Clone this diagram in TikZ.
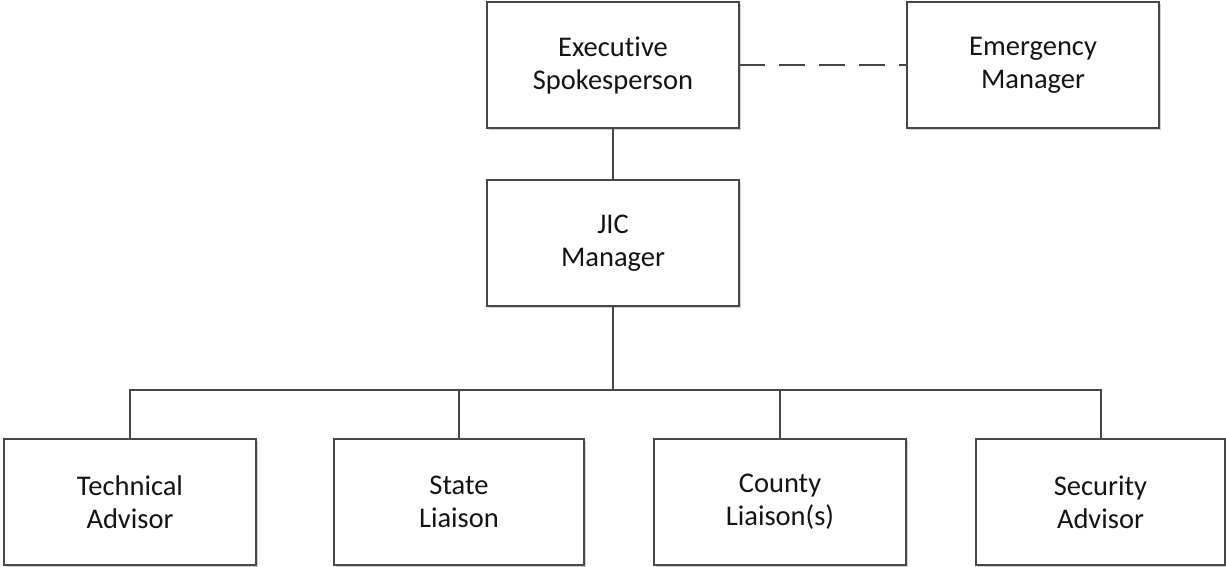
\documentclass[tikz,border=0pt]{standalone}
\usepackage{fontspec}
\setmainfont{Carlito}[Ligatures=NoCommon]
\usetikzlibrary{shadows}
\definecolor{edge}{HTML}{474747}
\definecolor{ink}{HTML}{141414}
\tikzset{
  unitbox/.style={draw=edge, line width=2pt, fill=white, text=ink,
    minimum height=126pt, align=center,
    font=\fontsize{28.5}{33}\selectfont,
    drop shadow={shadow xshift=2pt, shadow yshift=-2pt, opacity=0.18, fill=black}},
  wide/.style={unitbox, minimum width=252pt},
  link/.style={draw=edge, line width=2pt},
  dotlink/.style={link, dash pattern=on 26pt off 14pt}
}
\begin{document}
\begin{tikzpicture}[x=1pt, y=-1pt, inner sep=0pt, outer sep=0pt]
  \useasboundingbox (0,0) rectangle (1226,566);
  % top row
  \node[wide] (exec) at (613,65) {Executive\\Spokesperson};
  \node[wide] (emer) at (1033,65) {Emergency\\Manager};
  % middle
  \node[wide] (jic) at (613,243) {JIC\\Manager};
  % bottom row
  \node[unitbox, minimum width=252pt] (tech) at (130,502) {Technical\\Advisor};
  \node[unitbox, minimum width=250pt] (state) at (459,502) {State\\Liaison};
  \node[unitbox, minimum width=252pt] (county) at (780,502) {County\\Liaison(s)};
  \node[unitbox, minimum width=249pt] (sec) at (1100.5,502) {Security\\Advisor};
  \coordinate (bus) at (613,390);
  % connectors
  \draw[dotlink] (exec.east) -- (emer.west);
  \draw[link] (exec.south) -- (jic.north);
  \draw[link] (jic.south) -- (bus);
  \draw[link] (tech.north) |- (bus) -| (sec.north);
  \draw[link] (state.north) |- (bus);
  \draw[link] (county.north) |- (bus);
\end{tikzpicture}
\end{document}
